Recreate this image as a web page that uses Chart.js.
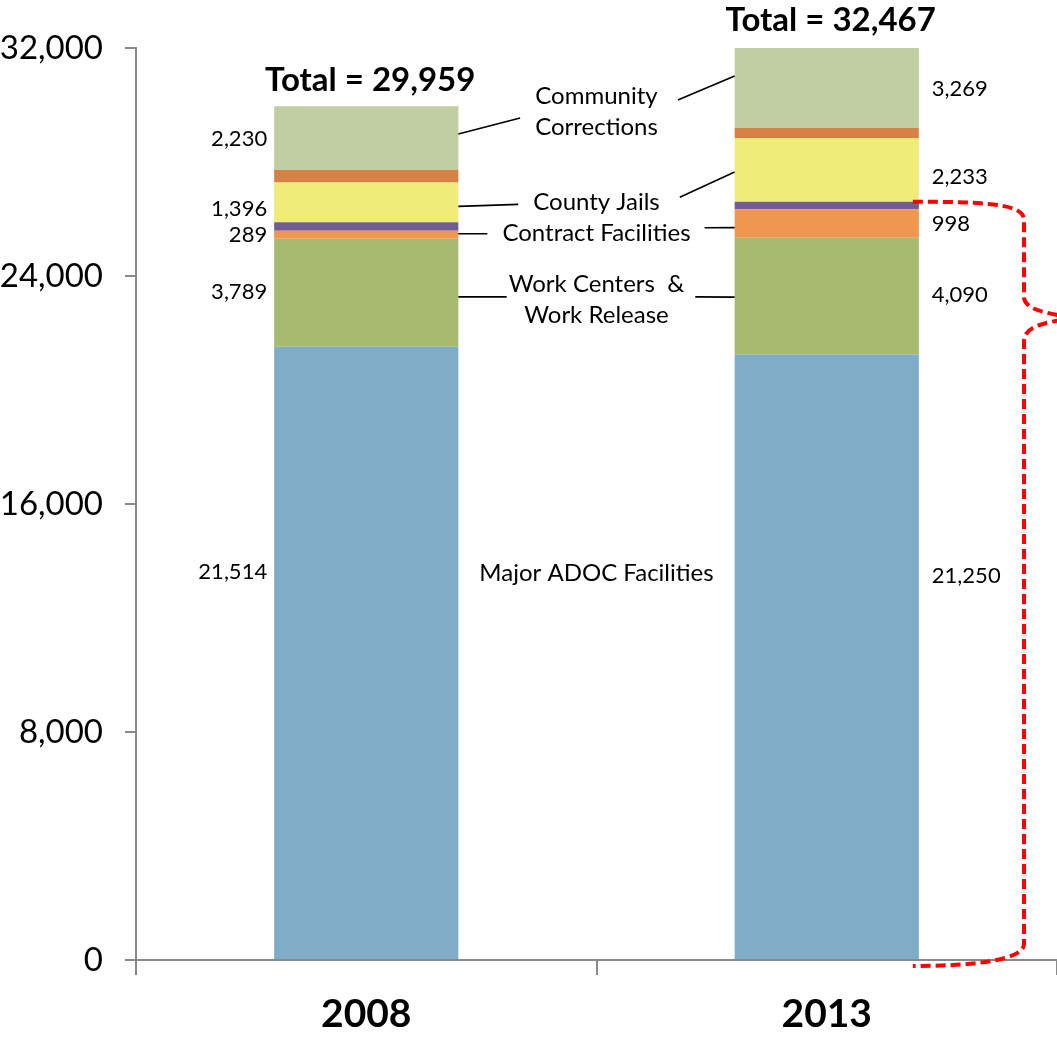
<!DOCTYPE html>
<html>
<head>
<meta charset="utf-8">
<script src="https://cdn.jsdelivr.net/npm/chart.js@4/dist/chart.umd.min.js"></script>
<style>
  html, body { margin: 0; padding: 0; background: #fff; }
  canvas { display: block; }
</style>
</head>
<body>
<canvas id="inmateChart" width="1057" height="1045"></canvas>
<script>
var years = ["2008", "2013"];

// stacked from the bottom up
var majorFacilities = [21514, 21250];
var workCenters = [3789, 4090];
var contractFacilities = [289, 998];
var purpleBand = [295, 267];
var countyJails = [1396, 2233];
var orangeBand = [446, 360];
var communityCorrections = [2230, 3269];

var yTicks = [0, 8000, 16000, 24000, 32000];

var segmentTitles = [
    ["Major ADOC Facilities"],
    ["Work Centers  &", "Work Release"],
    ["Contract Facilities"],
    null,
    ["County Jails"],
    null,
    ["Community", "Corrections"]
];

var FONT = "Lato, Carlito, 'Open Sans', sans-serif";

function fmt(v) {
    return v.toLocaleString("en-US");
}

function makeSet(label, data, color, showValue) {
    return {
        label: label,
        data: data,
        backgroundColor: color,
        borderWidth: 0,
        barPercentage: 0.4,
        categoryPercentage: 1.0,
        clip: 0,
        showValue: showValue
    };
}

var datasets = [
    makeSet("Major ADOC Facilities", majorFacilities, "#7facc6", true),
    makeSet("Work Centers & Work Release", workCenters, "#a6ba70", true),
    makeSet("Contract Facilities", contractFacilities, "#f0964f", true),
    makeSet("", purpleBand, "#735b94", false),
    makeSet("County Jails", countyJails, "#efec7a", true),
    makeSet("", orangeBand, "#d68247", false),
    makeSet("Community Corrections", communityCorrections, "#c1cea1", true)
];

// value label nudges (px) per segment
var valueShift = [-81, -1, 0, 0, 7, 0, 1];

// title placement relative to the 2008 segment centre, and leader lines:
// [leftBarDy, leftTextDy, rightTextDy, rightBarDy, gapLeft, gapRight]
var titleShift = [-80, 7, -1, 0, 0, 0, -26];
var leaders = [
    null,
    [4, -3, -3, 1, 2, 11],
    [-1, 0, -6, 4, 15, 14],
    null,
    [4, 2, -5, 2, 15, 20],
    null,
    [-4, 6, -12, -12, 15, 20]
];

function segBox(chart, di, idx) {
    var bar = chart.getDatasetMeta(di).data[idx];
    var top = Math.max(bar.y, chart.chartArea.top);
    return {
        left: bar.x - bar.width / 2,
        right: bar.x + bar.width / 2,
        x: bar.x,
        top: top,
        mid: (top + bar.base) / 2
    };
}

var annotate = {
    id: "annotate",
    afterDatasetsDraw: function (chart) {
        var ctx = chart.ctx;
        var yScale = chart.scales.y;
        var n = chart.data.datasets.length;
        ctx.save();
        ctx.fillStyle = "#000";
        ctx.strokeStyle = "#000";
        ctx.lineWidth = 1.6;
        ctx.textBaseline = "middle";
        ctx.font = "22px " + FONT;

        // segment values beside the bars
        chart.data.datasets.forEach(function (ds, di) {
            if (!ds.showValue) return;
            ds.data.forEach(function (v, idx) {
                var b = segBox(chart, di, idx);
                var y = b.mid + valueShift[di];
                if (idx === 0) {
                    ctx.textAlign = "right";
                    ctx.fillText(fmt(v), b.left - 7, y);
                } else {
                    ctx.textAlign = "left";
                    ctx.fillText(fmt(v), b.right + 13, y);
                }
            });
        });

        // segment names between the bars, with leader lines
        ctx.textAlign = "center";
        ctx.font = "24px " + FONT;
        segmentTitles.forEach(function (lines, di) {
            if (!lines) return;
            var a = segBox(chart, di, 0);
            var b = segBox(chart, di, 1);
            var cx = (a.right + b.left) / 2;
            var cy = a.mid + titleShift[di];
            var lh = 31;
            var y0 = cy - (lines.length - 1) * lh / 2;
            var w = 0;
            lines.forEach(function (t, k) {
                ctx.fillText(t, cx, y0 + k * lh);
                w = Math.max(w, ctx.measureText(t).width);
            });
            var L = leaders[di];
            if (!L) return;
            ctx.beginPath();
            ctx.moveTo(a.right, a.mid + L[0]);
            ctx.lineTo(cx - w / 2 - L[4], cy + L[1]);
            ctx.moveTo(cx + w / 2 + L[5], cy + L[2]);
            ctx.lineTo(b.left, b.mid + L[3]);
            ctx.stroke();
        });

        // totals above each bar
        ctx.font = "bold 33px " + FONT;
        years.forEach(function (yr, idx) {
            var total = 0;
            for (var di = 0; di < n; di++) total += chart.data.datasets[di].data[idx];
            var bar = chart.getDatasetMeta(n - 1).data[idx];
            var y = Math.max(yScale.getPixelForValue(total) - 26, 20);
            ctx.fillText("Total = " + fmt(total), bar.x + 4, y);
        });
        ctx.restore();
    },
    afterDraw: function (chart) {
        // red dashed brace on the right of the 2013 bar
        var ctx = chart.ctx;
        var yScale = chart.scales.y;
        var bar = chart.getDatasetMeta(3).data[1];
        var sx = bar.x + bar.width / 2 - 6;
        var cum = majorFacilities[1] + workCenters[1] + contractFacilities[1] + purpleBand[1];
        var yTop = yScale.getPixelForValue(cum);
        var yBot = yScale.getPixelForValue(0) + 6;
        var vx = 1024;
        var tipX = 1062;
        var tipY = yTop + 115;
        ctx.save();
        ctx.strokeStyle = "#ff0000";
        ctx.lineWidth = 4;
        ctx.setLineDash([10, 5]);
        ctx.beginPath();
        ctx.moveTo(sx, yTop);
        ctx.bezierCurveTo(985, yTop, vx, yTop + 2, vx, yTop + 18);
        ctx.lineTo(vx, tipY - 20);
        ctx.bezierCurveTo(vx, tipY - 8, 1045, tipY - 4, tipX, tipY - 1);
        ctx.moveTo(tipX, tipY + 3);
        ctx.bezierCurveTo(1045, tipY + 6, vx, tipY + 10, vx, tipY + 24);
        ctx.lineTo(vx, yBot - 22);
        ctx.bezierCurveTo(vx, yBot - 8, 985, yBot, sx, yBot);
        ctx.stroke();
        ctx.restore();
    }
};

var ctx = document.getElementById("inmateChart").getContext("2d");
var chart = new Chart(ctx, {
    type: "bar",
    data: { labels: years, datasets: datasets },
    options: {
        responsive: false,
        animation: false,
        layout: { padding: { top: 48, right: 0, left: 0, bottom: 0 } },
        plugins: {
            legend: { display: false },
            tooltip: { enabled: false }
        },
        scales: {
            x: {
                stacked: true,
                grid: {
                    offset: true,
                    drawOnChartArea: false,
                    tickLength: 15,
                    color: "#8a8a8a",
                    lineWidth: 2
                },
                border: { color: "#8a8a8a", width: 2 },
                ticks: {
                    color: "#000",
                    padding: 16,
                    font: { family: FONT, size: 39, weight: "bold" }
                },
                afterFit: function (scale) {
                    scale.height = 85;
                }
            },
            y: {
                stacked: true,
                min: 0,
                max: 32000,
                grid: {
                    drawOnChartArea: false,
                    tickLength: 11,
                    color: "#8a8a8a",
                    lineWidth: 2
                },
                border: { color: "#8a8a8a", width: 2 },
                ticks: {
                    color: "#000",
                    padding: 22,
                    font: { family: FONT, size: 33 },
                    callback: function (v) { return fmt(v); }
                },
                afterBuildTicks: function (scale) {
                    scale.ticks = yTicks.map(function (v) { return { value: v }; });
                },
                afterFit: function (scale) {
                    scale.width = 136;
                }
            }
        }
    },
    plugins: [annotate]
});
</script>
</body>
</html>
